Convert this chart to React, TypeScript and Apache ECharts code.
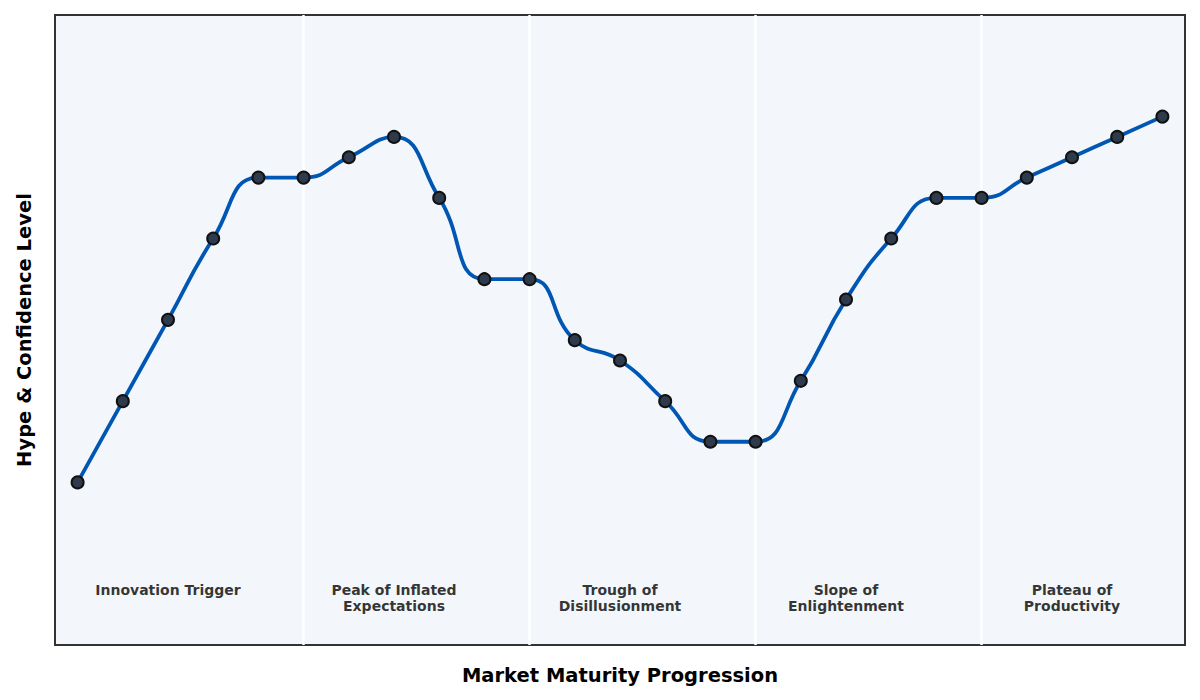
import { useEffect, useRef } from 'react'
import * as echarts from 'echarts'

// hype level at each step of market maturity (steps 0..24)
const hypeValues = [10, 30, 50, 70, 85, 85, 90, 95, 80, 60, 60, 45, 40, 30, 20, 20, 35, 55, 70, 80, 80, 85, 90, 95, 100]
const stageNames = [
  'Innovation Trigger',
  'Peak of Inflated\nExpectations',
  'Trough of\nDisillusionment',
  'Slope of\nEnlightenment',
  'Plateau of\nProductivity'
]
const stageCenters = [2, 7, 12, 17, 22]
const stageBoundaries = [5, 10, 15, 20]
const stageLabelY = -14.5

const FONT = "'DejaVu Sans', sans-serif"

export default function App() {
  const chartRef = useRef<HTMLDivElement>(null)

  useEffect(() => {
    if (!chartRef.current) return
    document.body.style.margin = '0'
    const chart = echarts.init(chartRef.current, null, { renderer: 'svg' })

    const option: echarts.EChartsOption = {
      animation: false,
      backgroundColor: '#ffffff',
      grid: {
        left: 55,
        right: 15,
        top: 15,
        bottom: 55,
        show: true,
        backgroundColor: '#f3f6fa',
        borderColor: '#333333',
        borderWidth: 2
      },
      xAxis: {
        type: 'value',
        min: -0.5,
        max: 24.5,
        name: 'Market Maturity Progression',
        nameLocation: 'middle',
        nameGap: 20,
        nameTextStyle: { fontFamily: FONT, fontWeight: 'bold', fontSize: 19.5, color: '#000' },
        axisLine: { show: false },
        axisTick: { show: false },
        axisLabel: { show: false },
        splitLine: { show: false }
      },
      yAxis: {
        type: 'value',
        min: -30,
        max: 125,
        name: 'Hype & Confidence Level',
        nameLocation: 'middle',
        nameGap: 21,
        nameTextStyle: { fontFamily: FONT, fontWeight: 'bold', fontSize: 19.5, color: '#000' },
        axisLine: { show: false },
        axisTick: { show: false },
        axisLabel: { show: false },
        splitLine: { show: false }
      },
      series: [
        {
          // stage separators
          type: 'line',
          data: [],
          z: 1,
          silent: true,
          markLine: {
            silent: true,
            symbol: ['none', 'none'],
            label: { show: false },
            lineStyle: { color: '#ffffff', width: 2.5, type: 'solid' },
            data: stageBoundaries.map(x => ({ xAxis: x }))
          }
        },
        {
          // stage names
          type: 'scatter',
          z: 3,
          silent: true,
          symbolSize: 1,
          itemStyle: { color: 'rgba(0,0,0,0)' },
          label: {
            show: true,
            position: 'inside',
            align: 'center',
            verticalAlign: 'top',
            fontFamily: FONT,
            fontWeight: 'bold',
            fontSize: 14,
            lineHeight: 16,
            color: '#000',
            formatter: (p: any) => stageNames[p.dataIndex]
          },
          data: stageCenters.map(x => [x, stageLabelY])
        },
        {
          type: 'line',
          z: 5,
          smooth: 0.5,
          data: hypeValues.map((v, i) => [i, v]),
          lineStyle: { color: '#0057b3', width: 3.8 },
          symbol: 'circle',
          symbolSize: 12,
          itemStyle: { color: '#2e3b4c', borderColor: '#111111', borderWidth: 2 }
        }
      ]
    }

    chart.setOption(option)
    return () => {
      chart.dispose()
    }
  }, [])

  return <div ref={chartRef} style={{ width: 1200, height: 700 }} />
}
